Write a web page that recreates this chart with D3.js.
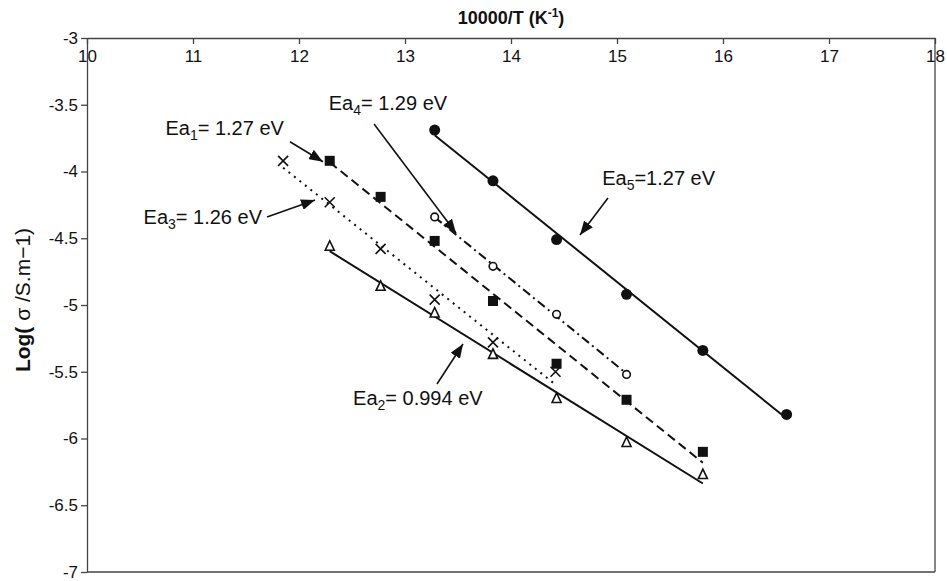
<!DOCTYPE html>
<html>
<head>
<meta charset="utf-8">
<script src="https://cdn.jsdelivr.net/npm/d3@7"></script>
<style>
  body { margin: 0; background: #fff; }
  text { font-family: "Liberation Sans", Arial, sans-serif; fill: #111; }
</style>
</head>
<body>
<div id="canvas"></div>
<script>
"use strict"

let svgWidth = 947
let svgHeight = 581
let plotLeft = 87, plotRight = 935, plotTop = 38, plotBottom = 572

/* tick labels */
let xTickValues = [10, 11, 12, 13, 14, 15, 16, 17, 18]
let yTickValues = [-3, -3.5, -4, -4.5, -5, -5.5, -6, -6.5, -7]

/* series 1 : filled squares, dashed fit */
let s1X = [12.29, 12.77, 13.28, 13.83, 14.43, 15.09, 15.81]
let s1Y = [-3.92, -4.19, -4.52, -4.97, -5.44, -5.71, -6.10]
/* series 2 : open triangles, solid fit */
let s2X = [12.29, 12.77, 13.28, 13.83, 14.43, 15.09, 15.81]
let s2Y = [-4.56, -4.86, -5.06, -5.37, -5.70, -6.03, -6.27]
/* series 3 : crosses, dotted fit */
let s3X = [11.85, 12.29, 12.77, 13.28, 13.83, 14.42]
let s3Y = [-3.92, -4.23, -4.58, -4.96, -5.28, -5.50]
/* series 4 : open circles, dash-dot fit */
let s4X = [13.28, 13.83, 14.43, 15.09]
let s4Y = [-4.34, -4.71, -5.07, -5.52]
/* series 5 : filled circles, solid fit */
let s5X = [13.28, 13.83, 14.43, 15.09, 15.81, 16.60]
let s5Y = [-3.69, -4.07, -4.51, -4.92, -5.34, -5.82]

/* annotation labels */
let noteSub = ["1", "4", "3", "2", "5"]
let noteText = ["= 1.27 eV", "= 1.29 eV", "= 1.26 eV", "= 0.994 eV", "=1.27 eV"]

let svg = d3.select("#canvas")
    .append("svg")
    .attr("width", svgWidth)
    .attr("height", svgHeight)

svg.append("rect")
   .attr("width", svgWidth)
   .attr("height", svgHeight)
   .attr("fill", "#fff")

let xScale = d3.scaleLinear().domain([10, 18]).range([plotLeft, plotRight])
let yScale = d3.scaleLinear().domain([-3, -7]).range([plotTop, plotBottom])

/* plot border (right + bottom) */
svg.append("line")
   .attr("x1", plotRight).attr("x2", plotRight)
   .attr("y1", plotTop).attr("y2", plotBottom)
   .attr("stroke", "#444").attr("stroke-width", 1.3)
svg.append("line")
   .attr("x1", plotLeft).attr("x2", plotRight)
   .attr("y1", plotBottom).attr("y2", plotBottom)
   .attr("stroke", "#444").attr("stroke-width", 1.3)

/* x axis sits on top, ticks + labels pointing down into the plot */
let xAxis = svg.append("g")
   .attr("transform", "translate(0," + plotTop + ")")
   .call(d3.axisBottom(xScale).tickValues(xTickValues).tickSize(6).tickSizeOuter(0).tickFormat(d => d))
xAxis.selectAll("text").attr("font-size", 17).attr("dy", "0.9em")

/* y axis */
let yAxis = svg.append("g")
   .attr("transform", "translate(" + plotLeft + ",0)")
   .call(d3.axisLeft(yScale).tickValues(yTickValues).tickSize(6).tickSizeOuter(0).tickFormat(d => String(d)))
yAxis.selectAll("text").attr("font-size", 17)

svg.selectAll(".domain, .tick line").attr("stroke", "#444").attr("stroke-width", 1.3)
svg.selectAll(".tick text").attr("fill", "#111").attr("font-family", "Liberation Sans, Arial, sans-serif")

/* axis titles */
let xt = svg.append("text")
   .attr("x", (plotLeft + plotRight) / 2)
   .attr("y", 24)
   .attr("text-anchor", "middle")
   .attr("font-size", 18)
   .attr("font-weight", "bold")
xt.append("tspan").text("10000/T (K")
xt.append("tspan").attr("font-size", 12).attr("dy", -7).text("-1")
xt.append("tspan").attr("dy", 7).text(")")

let yt = svg.append("text")
   .attr("transform", "translate(30,300) rotate(-90)")
   .attr("text-anchor", "middle")
   .attr("font-size", 21)
yt.append("tspan").attr("font-weight", "bold").text("Log(")
yt.append("tspan").text(" \u03c3 /S.m\u22121)")

/* least squares fit, drawn over the x span of the points */
function fitLine(xs, ys) {
  let mx = d3.mean(xs), my = d3.mean(ys)
  let sxy = d3.sum(xs, (x, i) => (x - mx) * (ys[i] - my))
  let sxx = d3.sum(xs, x => (x - mx) * (x - mx))
  let b = sxy / sxx
  let ext = d3.extent(xs)
  return ext.map(x => [x, my + b * (x - mx)])
}

let line = d3.line().x(d => xScale(d[0])).y(d => yScale(d[1]))

let series = [
  {xs: s1X, ys: s1Y, dash: "9,5", mark: "square"},
  {xs: s2X, ys: s2Y, dash: null, mark: "triangle"},
  {xs: s3X, ys: s3Y, dash: "2,5", mark: "cross"},
  {xs: s4X, ys: s4Y, dash: "9,4,2,4", mark: "ocircle"},
  {xs: s5X, ys: s5Y, dash: null, mark: "circle"}
]

series.forEach(s => {
  svg.append("path")
     .attr("d", line(fitLine(s.xs, s.ys)))
     .attr("fill", "none")
     .attr("stroke", "#111")
     .attr("stroke-width", 2)
     .attr("stroke-dasharray", s.dash)

  let pts = s.xs.map((x, i) => [x, s.ys[i]])
  let g = svg.append("g")
  pts.forEach(p => {
    let cx = xScale(p[0]), cy = yScale(p[1])
    if (s.mark == "square") {
      g.append("rect").attr("x", cx - 5).attr("y", cy - 5).attr("width", 10).attr("height", 10).attr("fill", "#111")
    } else if (s.mark == "circle") {
      g.append("circle").attr("cx", cx).attr("cy", cy).attr("r", 5.5).attr("fill", "#111")
    } else if (s.mark == "ocircle") {
      g.append("circle").attr("cx", cx).attr("cy", cy).attr("r", 3.8).attr("fill", "#fff").attr("stroke", "#111").attr("stroke-width", 1.6)
    } else if (s.mark == "triangle") {
      g.append("path")
       .attr("d", "M" + cx + "," + (cy - 5.5) + "L" + (cx + 4.5) + "," + (cy + 4) + "L" + (cx - 4.5) + "," + (cy + 4) + "Z")
       .attr("fill", "#fff").attr("stroke", "#111").attr("stroke-width", 1.6)
    } else {
      g.append("path")
       .attr("d", "M" + (cx - 5) + "," + (cy - 5) + "L" + (cx + 5) + "," + (cy + 5) + "M" + (cx + 5) + "," + (cy - 5) + "L" + (cx - 5) + "," + (cy + 5))
       .attr("stroke", "#111").attr("stroke-width", 1.6)
    }
  })
})

/* annotations: label position, arrow start, arrow tip (data units) */
let notes = [
  {tx: 10.74, ty: -3.674, anchor: "start", from: [11.915, -3.777], to: [12.226, -3.927]},
  {tx: 12.28, ty: -3.487, anchor: "start", from: [12.708, -3.644], to: [13.481, -4.461]},
  {tx: 11.651, ty: -4.341, anchor: "end",   from: [11.698, -4.341], to: [12.151, -4.213]},
  {tx: 12.51, ty: -5.697, anchor: "start", from: [13.302, -5.592], to: [13.547, -5.292]},
  {tx: 14.86, ty: -4.049, anchor: "start", from: [14.915, -4.199], to: [14.651, -4.476]}
]

svg.append("defs").append("marker")
   .attr("id", "head")
   .attr("viewBox", "0 0 14 11")
   .attr("refX", 14).attr("refY", 5.5)
   .attr("markerWidth", 14).attr("markerHeight", 11)
   .attr("markerUnits", "userSpaceOnUse")
   .attr("orient", "auto")
   .append("path")
   .attr("d", "M0,0L14,5.5L0,11Z")
   .attr("fill", "#111")

notes.forEach((n, i) => {
  svg.append("line")
     .attr("x1", xScale(n.from[0])).attr("y1", yScale(n.from[1]))
     .attr("x2", xScale(n.to[0])).attr("y2", yScale(n.to[1]))
     .attr("stroke", "#111").attr("stroke-width", 1.6)
     .attr("marker-end", "url(#head)")

  let t = svg.append("text")
     .attr("x", xScale(n.tx)).attr("y", yScale(n.ty))
     .attr("dy", "0.35em")
     .attr("text-anchor", n.anchor)
     .attr("font-size", 20)
  t.append("tspan").text("Ea")
  t.append("tspan").attr("font-size", 14).attr("dy", 5).text(noteSub[i])
  t.append("tspan").attr("dy", -5).text(noteText[i])
})
</script>
</body>
</html>
